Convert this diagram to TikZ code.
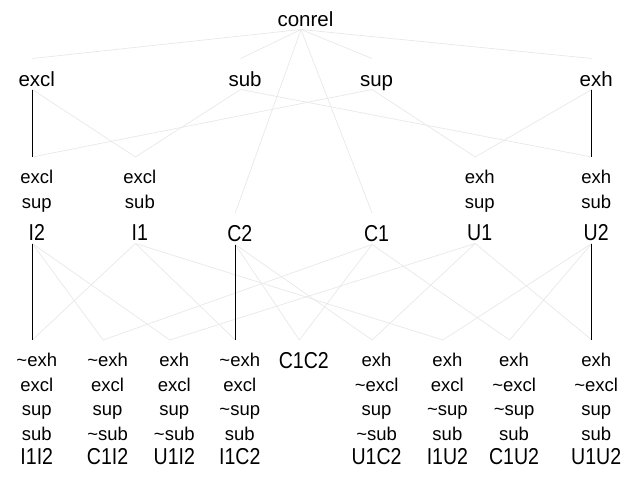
\documentclass[tikz,border=0pt]{standalone}
\usepackage{fontspec}
\setmainfont{Liberation Sans}
% object names are set a little condensed
\newfontfamily\objfont[FakeStretch=0.85]{Liberation Sans}
\newcommand\nt{\textasciitilde}
% port node: an invisible box whose top and bottom are where the lines meet
\newcommand\cport[4]{\node[port, minimum height={#4pt-#3pt}] (#1) at (#2,{(#3+#4)/2}) {};}
\begin{document}
\begin{tikzpicture}[x=1pt,y=-1pt,
  port/.style={rectangle, draw=none, inner sep=0pt, outer sep=0pt, minimum width=0pt},
  big/.style={font=\fontsize{20.5}{24}\selectfont, anchor=base, inner sep=0pt},
  attr/.style={font=\fontsize{18.5}{24}\selectfont, anchor=base, inner sep=0pt},
  obj/.style={font=\objfont\fontsize{23}{24}\selectfont, anchor=base, inner sep=0pt},
  link/.style={draw=black!9, line width=0.7pt},
  vlink/.style={draw=black, line width=0.8pt}]
\useasboundingbox (0,0) rectangle (634,479);

% ---------- top concept ----------
\cport{conrel}{301}{12}{29.5}
\node[big] (conrel-t) at (305.5,27) {conrel};

% ---------- attribute concepts ----------
\cport{excl}{32.3}{58.5}{89.5}
\cport{sub}{240.6}{58.5}{89.5}
\cport{sup}{372.1}{58.5}{89.5}
\cport{exh}{591.7}{58.5}{89.5}
\node[big] (excl-t) at (36.8,86.5) {excl};
\node[big] (sub-t) at (245.1,86.5) {sub};
\node[big] (sup-t) at (376.6,86.5) {sup};
\node[big] (exh-t) at (596.2,86.5) {exh};

% ---------- middle concepts ----------
\cport{I2}{32.3}{157}{243.5}
\cport{I1}{135.4}{157}{243.5}
\cport{C2}{235.3}{213}{244.5}
\cport{C1}{372.1}{213}{244.5}
\cport{U1}{475.2}{157}{243.5}
\cport{U2}{591.7}{157}{243.5}

\node[attr] (I2-a) at (36.8,183) {excl};
\node[attr] (I2-b) at (36.8,208) {sup};
\node[obj]  (I2-o) at (36.8,240.5) {I2};
\node[attr] (I1-a) at (139.9,183) {excl};
\node[attr] (I1-b) at (139.9,208) {sub};
\node[obj]  (I1-o) at (139.9,240.5) {I1};
\node[obj]  (C2-o) at (239.8,241.5) {C2};
\node[obj]  (C1-o) at (376.6,241.5) {C1};
\node[attr] (U1-a) at (479.7,183) {exh};
\node[attr] (U1-b) at (479.7,208) {sup};
\node[obj]  (U1-o) at (479.7,240.5) {U1};
\node[attr] (U2-a) at (596.2,183) {exh};
\node[attr] (U2-b) at (596.2,208) {sub};
\node[obj]  (U2-o) at (596.2,240.5) {U2};

% ---------- object concepts ----------
\cport{I1I2}{32.3}{340}{470}
\cport{C1I2}{103.1}{340}{470}
\cport{U1I2}{169.8}{340}{470}
\cport{I1C2}{235.3}{340}{470}
\cport{C1C2}{299.3}{340}{470}
\cport{U1C2}{372.1}{340}{470}
\cport{I1U2}{442.9}{340}{470}
\cport{C1U2}{509.6}{340}{470}
\cport{U1U2}{591.7}{340}{470}

% text columns of the bottom row
\newcommand\col[6]{%
  \node[attr] (#1-a) at (#2,366.5) {#3};
  \node[attr] (#1-b) at (#2,391) {#4};
  \node[attr] (#1-c) at (#2,415.5) {#5};
  \node[attr] (#1-d) at (#2,440) {#6};
  \node[obj]  (#1-o) at (#2,464.5) {#1};}
\col{I1I2}{36.8}{\nt exh}{excl}{sup}{sub}
\col{C1I2}{107.6}{\nt exh}{excl}{sup}{\nt sub}
\col{U1I2}{174.3}{exh}{excl}{sup}{\nt sub}
\col{I1C2}{239.8}{\nt exh}{excl}{\nt sup}{sub}
\node[obj] (C1C2-o) at (303.8,368) {C1C2};
\col{U1C2}{376.6}{exh}{\nt excl}{sup}{\nt sub}
\col{I1U2}{447.4}{exh}{excl}{\nt sup}{sub}
\col{C1U2}{514.1}{exh}{\nt excl}{\nt sup}{sub}
\col{U1U2}{596.2}{exh}{\nt excl}{sup}{sub}

% ---------- edges ----------
\foreach \a/\b in {conrel/excl, conrel/sub, conrel/sup, conrel/exh,
                   conrel/C2, conrel/C1,
                   excl/I1, sub/I1, sub/U2, sup/I2, sup/U1, exh/U1,
                   I2/C1I2, I2/U1I2, I1/I1I2, I1/I1C2, I1/I1U2,
                   C2/C1C2, C2/U1C2, C1/C1I2, C1/C1C2, C1/C1U2,
                   U1/U1I2, U1/U1C2, U1/U1U2, U2/I1U2, U2/C1U2}
  \draw[link] (\a.south) -- (\b.north);
\foreach \a/\b in {excl/I2, exh/U2, I2/I1I2, C2/I1C2, U2/U1U2}
  \draw[vlink] (\a.south) -- (\b.north);
\end{tikzpicture}
\end{document}
